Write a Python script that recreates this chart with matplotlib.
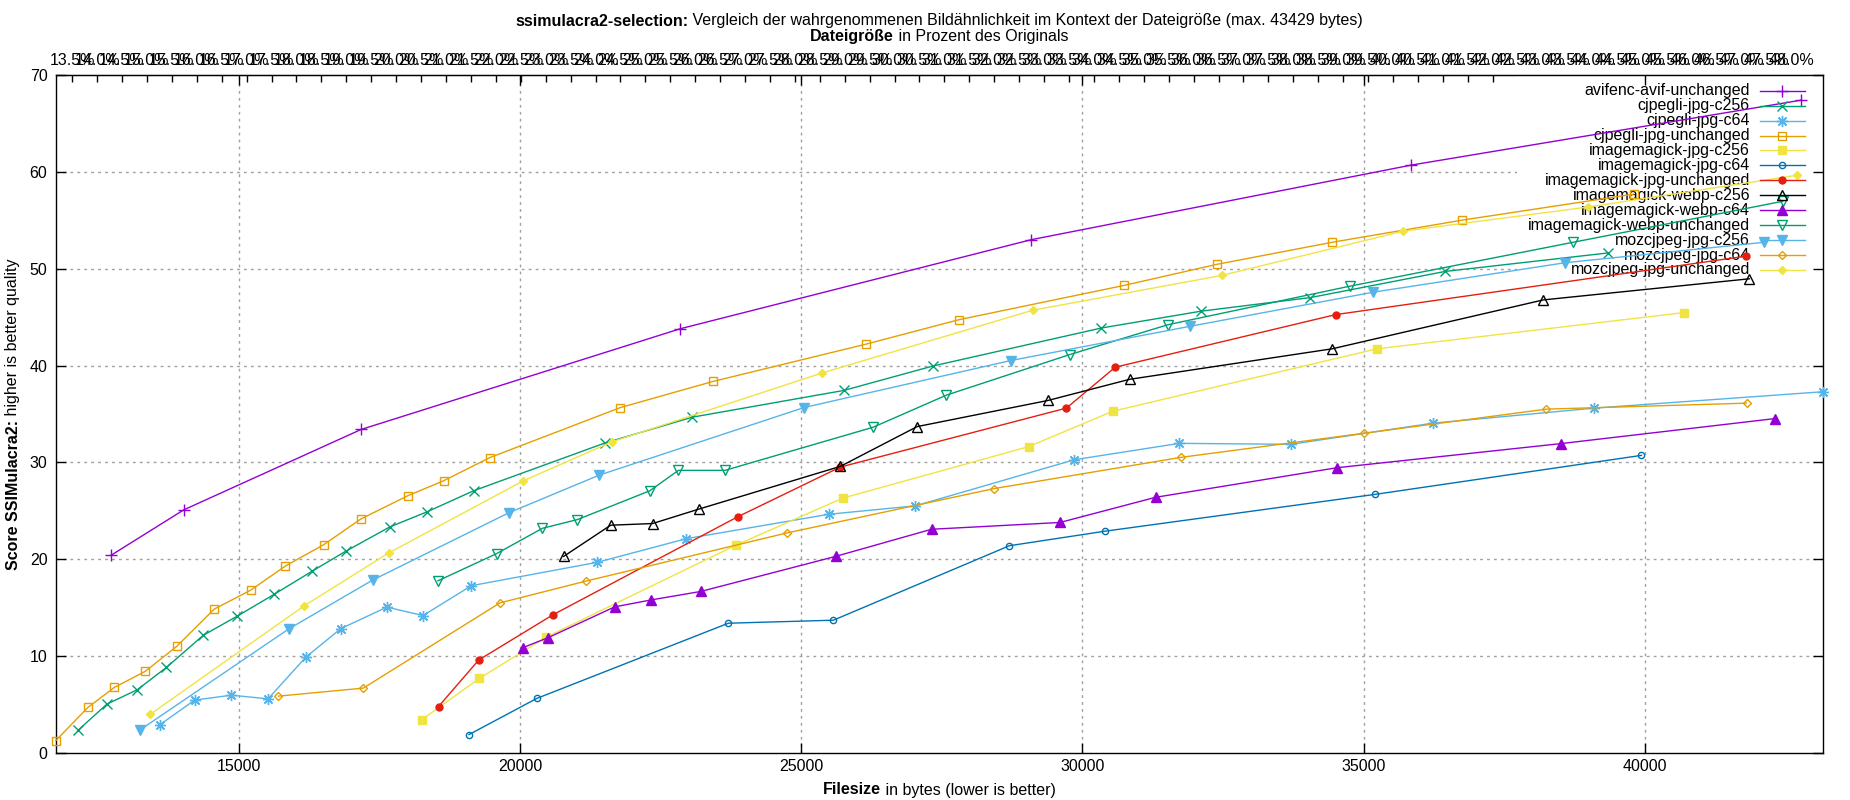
import matplotlib
matplotlib.use('Agg')
import numpy as np
import matplotlib.pyplot as plt
from matplotlib.patches import Rectangle
from matplotlib.lines import Line2D

FS = 11.5
plt.rcParams['font.family'] = ['Liberation Sans', 'DejaVu Sans']
plt.rcParams['font.size'] = FS

# values (bytes, score)
avif_unch_x = [12725, 14020, 17173, 22847, 29092, 35847, 42776]
avif_unch_y = [20.4, 25.1, 33.4, 43.8, 53.0, 60.7, 67.4]

cjpegli_c256_x = [12143, 12653, 13194, 13714, 14367, 14969, 15633, 16306, 16898, 17684, 18347,
                  19173, 21510, 23061, 25755, 27337, 30337, 32102, 34051, 36449, 39347]
cjpegli_c256_y = [2.35, 5.04, 6.53, 8.84, 12.15, 14.12, 16.40, 18.78, 20.82, 23.34, 24.90,
                  27.07, 32.01, 34.67, 37.43, 39.95, 43.88, 45.61, 47.02, 49.72, 51.63]

cjpegli_c64_x = [13602, 14214, 14867, 15520, 16194, 16816, 17633, 18276, 19133, 21367, 22959,
                 25490, 27031, 29857, 31724, 33704, 36224, 39102, 43166]
cjpegli_c64_y = [2.94, 5.46, 5.97, 5.59, 9.91, 12.85, 15.06, 14.19, 17.27, 19.68, 22.13,
                 24.65, 25.52, 30.28, 31.97, 31.87, 34.05, 35.61, 37.30]

cjpegli_unch_x = [11746, 12316, 12786, 13337, 13898, 14561, 15214, 15827, 16510, 17173, 18000,
                  18643, 19459, 21786, 23429, 26143, 27806, 30735, 32388, 34439, 36755, 39800]
cjpegli_unch_y = [1.28, 4.70, 6.77, 8.43, 11.02, 14.85, 16.82, 19.30, 21.51, 24.17, 26.55,
                  28.11, 30.49, 35.67, 38.36, 42.20, 44.74, 48.27, 50.45, 52.73, 55.02, 57.7]

im_jpg_c256_x = [18255, 19276, 20469, 23847, 25735, 29041, 30541, 35235, 40694]
im_jpg_c256_y = [3.45, 7.70, 11.98, 21.48, 26.31, 31.63, 35.29, 41.73, 45.47]

im_jpg_c64_x = [19092, 20296, 23704, 25571, 28700, 30400, 35200, 39939]
im_jpg_c64_y = [1.90, 5.63, 13.40, 13.71, 21.4, 22.9, 26.7, 30.73]

im_jpg_unch_x = [18551, 19265, 20582, 23867, 25694, 29714, 30582, 34500, 41800]
im_jpg_unch_y = [4.80, 9.60, 14.26, 24.38, 29.52, 35.61, 39.83, 45.26, 51.3]

im_webp_c256_x = [20776, 21612, 22357, 23173, 25694, 27061, 29388, 30837, 34439, 38194, 41857]
im_webp_c256_y = [20.30, 23.52, 23.69, 25.17, 29.59, 33.70, 36.40, 38.58, 41.73, 46.78, 48.96]

im_webp_c64_x = [20051, 20500, 21684, 22337, 23214, 25612, 27316, 29600, 31300, 34520, 38500, 42316]
im_webp_c64_y = [10.88, 11.91, 15.09, 15.81, 16.68, 20.30, 23.10, 23.8, 26.4, 29.45, 31.94, 34.53]

im_webp_unch_x = [18541, 19582, 20398, 21020, 22306, 22816, 23643, 26276, 27582, 29776, 31520,
                  34755, 38724, 42449]
im_webp_unch_y = [17.78, 20.58, 23.20, 24.10, 27.07, 29.18, 29.18, 33.63, 36.95, 41.14, 44.22,
                  48.20, 52.73, 56.96]

moz_c256_x = [13235, 15888, 17378, 19796, 21408, 25051, 28724, 31908, 35173, 38582, 42122]
moz_c256_y = [2.35, 12.81, 17.85, 24.79, 28.69, 35.67, 40.52, 44.05, 47.58, 50.62, 52.73]

moz_c64_x = [15704, 17214, 19643, 21173, 24745, 28429, 31745, 35000, 38245, 41806]
moz_c64_y = [5.87, 6.70, 15.50, 17.75, 22.72, 27.30, 30.52, 33.01, 35.50, 36.12]

moz_unch_x = [13429, 16153, 17663, 20061, 21643, 25367, 29112, 32480, 35704, 38990, 42704]
moz_unch_y = [4.01, 15.16, 20.65, 28.11, 32.15, 39.23, 45.71, 49.31, 53.88, 56.37, 59.65]

names = ['avifenc-avif-unchanged', 'cjpegli-jpg-c256', 'cjpegli-jpg-c64', 'cjpegli-jpg-unchanged',
         'imagemagick-jpg-c256', 'imagemagick-jpg-c64', 'imagemagick-jpg-unchanged',
         'imagemagick-webp-c256', 'imagemagick-webp-c64', 'imagemagick-webp-unchanged',
         'mozcjpeg-jpg-c256', 'mozcjpeg-jpg-c64', 'mozcjpeg-jpg-unchanged']
xs = [avif_unch_x, cjpegli_c256_x, cjpegli_c64_x, cjpegli_unch_x, im_jpg_c256_x, im_jpg_c64_x,
      im_jpg_unch_x, im_webp_c256_x, im_webp_c64_x, im_webp_unch_x, moz_c256_x, moz_c64_x, moz_unch_x]
ys = [avif_unch_y, cjpegli_c256_y, cjpegli_c64_y, cjpegli_unch_y, im_jpg_c256_y, im_jpg_c64_y,
      im_jpg_unch_y, im_webp_c256_y, im_webp_c64_y, im_webp_unch_y, moz_c256_y, moz_c64_y, moz_unch_y]

pct_ticks = np.arange(13.5, 48.01, 0.5)

# gnuplot-ish styles: colour, marker, size, filled
colors = ['#9400d3', '#009e73', '#56b4e9', '#e69f00', '#f0e442', '#0072b2', '#e51e10',
          '#000000', '#9400d3', '#009e73', '#56b4e9', '#e69f00', '#f0e442']
markers = ['+', 'x', (8, 2, 0), 's', 's', 'o', 'o', '^', '^', 'v', 'v', 'D', 'D']
msizes = [8, 6.5, 8, 6, 6, 4.5, 5, 6.5, 6.5, 6.5, 6.5, 4.5, 4.5]
filled = [True, True, True, False, True, False, True, False, True, False, True, False, True]

W, H = 1850, 800
fig = plt.figure(figsize=(W / 100, H / 100), dpi=100)
L, R, T, B = 55.8, 1823, 75, 753
ax = fig.add_axes([L / W, 1 - B / H, (R - L) / W, (B - T) / H])

grid_kw = dict(color='#a0a0a0', lw=1, linestyle=(0, (2, 3)), zorder=0.5)
xt = [15000, 20000, 25000, 30000, 35000, 40000]
for v in xt:
    ax.axvline(v, **grid_kw)
for v in range(10, 70, 10):
    ax.axhline(v, **grid_kw)

# key area hides the grid like the gnuplot output
ax.add_patch(Rectangle(((1517 - L) / (R - L), 1 - (278 - T) / (B - T)),
                       1 - (1517 - L) / (R - L), (278 - T) / (B - T),
                       transform=ax.transAxes, facecolor='white', edgecolor='none', zorder=1))

for i in range(len(names)):
    c = colors[i]
    ax.plot(xs[i], ys[i], color=c, lw=1, marker=markers[i], ms=msizes[i],
            mfc=c if filled[i] else 'none', mec=c, mew=1, zorder=3, clip_on=False)

allx = [v for s in xs for v in s]
ax.set_xlim(min(allx), max(allx))
ax.set_ylim(0, 70)
ax.set_xticks(xt)
ax.set_yticks(range(0, 71, 10))
ax.tick_params(direction='in', length=7, width=1, top=True, right=True, labelsize=FS)
ax.tick_params(axis='x', pad=4)
ax.tick_params(axis='y', pad=6)
for sp in ax.spines.values():
    sp.set_linewidth(1)


def b2p(b):
    return 13.5 + (np.asarray(b, dtype=float) - 12038) / 886.1


def p2b(p):
    return 12038 + (np.asarray(p, dtype=float) - 13.5) * 886.1


sec = ax.secondary_xaxis('top', functions=(b2p, p2b))
sec.set_ticks(pct_ticks, labels=['%.1f%%' % p for p in pct_ticks])
sec.tick_params(direction='in', length=5, width=1, pad=5, labelsize=FS)

# key
for i in range(len(names)):
    yy = 1 - (90.7 + i * 14.94) / H
    ax.text(1750 / W, yy, names[i], transform=fig.transFigure, ha='right', va='center',
            fontsize=FS, zorder=1.5, clip_on=False)
    c = colors[i]
    fig.add_artist(Line2D([1760 / W, 1805 / W], [yy, yy], color=c, lw=1))
    fig.add_artist(Line2D([1782 / W], [yy], color=c, marker=markers[i], ms=msizes[i],
                          mfc=c if filled[i] else 'none', mec=c, mew=1, lw=0))

renderer = fig.canvas.get_renderer()


def mixed_text(cx, cy, parts, rotation=0):
    objs = []
    for s, w in parts:
        t = fig.text(0, 0, s, fontsize=FS, fontweight=w, ha='left', va='center')
        objs.append((t, t.get_window_extent(renderer=renderer).width))
    total = sum(w for _, w in objs)
    pos = -total / 2
    for t, w in objs:
        if rotation == 0:
            t.set_position(((cx + pos) / W, 1 - cy / H))
        else:
            t.set_rotation(90)
            t.set_rotation_mode('anchor')
            t.set_position((cx / W, 1 - (cy - pos) / H))
        pos += w


mixed_text(939, 21, [('ssimulacra2-selection:', 'bold'),
                     (' Vergleich der wahrgenommenen Bildähnlichkeit im Kontext der Dateigröße (max. 43429 bytes)', 'normal')])
mixed_text(939, 37, [('Dateigröße', 'bold'), (' in Prozent des Originals', 'normal')])
mixed_text(939, 790, [('Filesize', 'bold'), (' in bytes (lower is better)', 'normal')])
mixed_text(13, 414, [('Score SSIMulacra2:', 'bold'), (' higher is better quality', 'normal')], rotation=90)

fig.savefig('out.png', dpi=100)
